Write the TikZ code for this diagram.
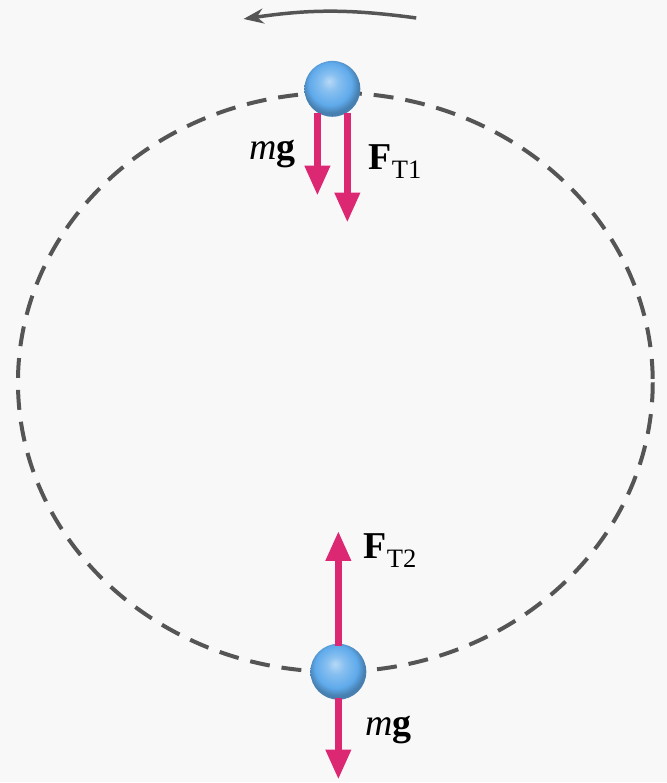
\documentclass[tikz,border=0pt]{standalone}
\usepackage{fontspec}
\setmainfont{Liberation Serif}
\usetikzlibrary{arrows.meta}

\definecolor{forcepink}{RGB}{220,40,115}
\definecolor{pathgray}{RGB}{85,85,85}
\definecolor{ballblue}{RGB}{95,170,235}
\definecolor{paper}{RGB}{248,248,248}

% soft blue sphere
\pgfdeclareradialshading{bluesphere}{\pgfqpoint{-3bp}{7bp}}{%
  color(0bp)=(white!55!ballblue);
  color(8bp)=(ballblue!75!white);
  color(19bp)=(ballblue);
  color(25bp)=(ballblue!75!black);
  color(50bp)=(ballblue!75!black)}

\begin{document}
\begin{tikzpicture}[x=1pt, y=-1pt,
  force/.style={draw=forcepink, line width=7pt,
    -{Triangle[length=30pt,width=24pt]}},
  ball/.style={circle, minimum size=56pt, inner sep=0pt,
    shading=bluesphere},
  label/.style={font=\fontsize{38}{40}\selectfont, inner sep=0pt}]
  % Background / page size
  \fill[paper] (0,0) rectangle (668,783);

  % Dashed circular path
  \draw[pathgray, line width=4pt, dash pattern=on 20pt off 12pt]
    (336,383) ellipse [x radius=318, y radius=290];

  % Sense of rotation
  \coordinate (rotR) at (417,18);
  \coordinate (rotL) at (244,19);
  \draw[pathgray, line width=3.5pt, -{Stealth[length=20pt,width=15pt]}]
    (rotR) to[bend right=8] (rotL);

  % Ball at the top and ball at the bottom
  \node[ball] (topball) at (333,89) {};
  \node[ball] (botball) at (339,673) {};

  % Force tips
  \coordinate (mgtoptip) at (318,196);
  \coordinate (fttoptip) at (348,223);
  \coordinate (ftbottip) at (339,532);
  \coordinate (mgbottip) at (339,781);

  % Forces on the top ball
  \draw[force] ([xshift=-15pt,yshift=4pt]topball.south) -- (mgtoptip);
  \draw[force] ([xshift=15pt,yshift=4pt]topball.south) -- (fttoptip);
  % Forces on the bottom ball
  \draw[force] ([yshift=-2pt]botball.north) -- (ftbottip);
  \draw[force] ([yshift=2pt]botball.south) -- (mgbottip);

  % Labels
  \node[label] (mgtop) at (273,154) {\textit{m}\textbf{g}};
  \node[label] (fttop) at (396,162) {\textbf{F}\textsubscript{T1}};
  \node[label] (ftbot) at (391,552) {\textbf{F}\textsubscript{T2}};
  \node[label] (mgbot) at (389,731) {\textit{m}\textbf{g}};
\end{tikzpicture}
\end{document}
